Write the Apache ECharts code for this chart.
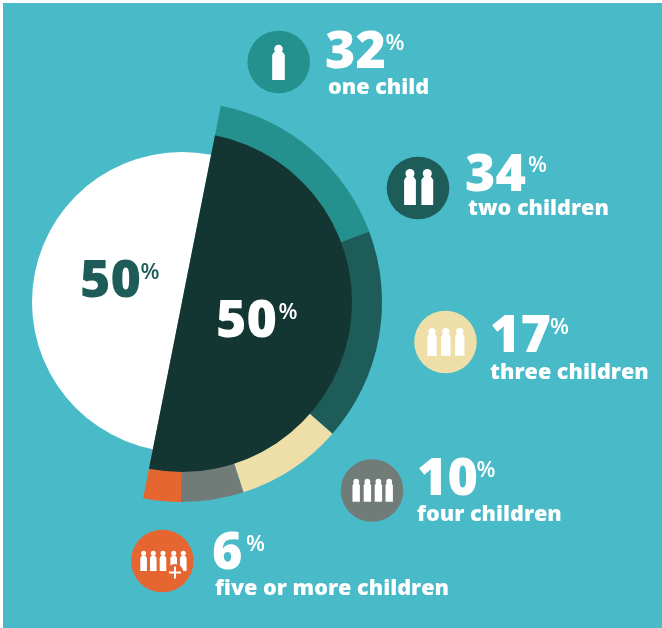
<!DOCTYPE html>
<html><head><meta charset="utf-8">
<style>html,body{margin:0;padding:0;background:#fff}#c{width:662px;height:628px}</style>
<script src="https://cdn.jsdelivr.net/npm/echarts@6/dist/echarts.min.js"></script>
</head><body><div id="c"></div>
<script>
var categories=['one child','two children','three children','four children','five or more children'];
var shares=[32,34,17,10,6];
var catColors=['#25918F','#1E5C5A','#EEDFA8','#717C79','#E66632'];
var splitLabels=['50','50'];
var splitValues=[50,50];
var FONT='"Open Sans"';
var chart=echarts.init(document.getElementById('c'),null,{renderer:'canvas'});
var center=[182,302];
var CLEAR='rgba(0,0,0,0)';
var sum=shares.reduce(function(a,b){return a+b},0);
function pie(radius,data,z){return {type:'pie',center:center,radius:radius,startAngle:78.8,clockwise:true,silent:true,z:z,
  label:{show:false},labelLine:{show:false},emphasis:{disabled:true},avoidLabelOverlap:false,minAngle:0,data:data};}
var outer=shares.map(function(v,i){return {name:categories[i],value:v,itemStyle:{color:catColors[i]}}});
outer.push({name:'rest',value:sum,itemStyle:{color:CLEAR}});
var icons=[
 {c:[278.7,62],xs:[278.5],w:12.6,top:53,bot:80,hy:49,hr:4.3},
 {c:[418,188],xs:[410,427.3],w:11.8,top:178,bot:205,hy:173.5,hr:4.5},
 {c:[445.5,342],xs:[432,445.8,459.8],w:9.4,top:335,bot:355.7,hy:331.5,hr:3.6},
 {c:[372,490.5],xs:[356.2,367.4,378.4,389.2],w:7.4,top:484,bot:501.7,hy:481.7,hr:2.9},
 {c:[162.3,561],xs:[143.6,153.3,163,173.7,183.3],w:6.6,top:556.7,bot:571,hy:553.3,hr:2.5}
];
var numPos=[[325,69.5,385.5],[465,191.7,528],[490,353,550],[417,496,476.5],[212,570,246]];
var labPos=[[328,95],[468,215.7],[490,380],[417,522],[215,595.7]];
var g=[];
g.push({type:'rect',shape:{x:3,y:3,width:659,height:625},style:{fill:'#48BAC8'},z:-10,silent:true});
function text(x,base,s,size,weight,fill,off){
  g.push({type:'text',x:x,y:base+off,z:50,silent:true,style:{x:0,y:0,text:s,fill:fill,
   font:weight+' '+size+'px '+FONT,textAlign:'left',textVerticalAlign:'bottom'}});
}
icons.forEach(function(ic,i){
  g.push({type:'circle',shape:{cx:ic.c[0],cy:ic.c[1],r:31.3},style:{fill:catColors[i]},z:20,silent:true});
  ic.xs.forEach(function(x){
    var h=ic.w/2,t=ic.top,b=ic.bot,s=ic.hr*0.5;
    g.push({type:'circle',shape:{cx:x,cy:ic.hy,r:ic.hr},style:{fill:'#fff'},z:21,silent:true});
    g.push({type:'polygon',shape:{points:[[x-h,b],[x-h,t+s],[x-h*0.8,t],[x-h*0.4,t-s],[x+h*0.4,t-s],[x+h*0.8,t],[x+h,t+s],[x+h,b]]},
      style:{fill:'#fff'},z:21,silent:true});
  });
  text(numPos[i][0],numPos[i][1],String(shares[i]),52,800,'#fff',10);
  text(numPos[i][2],numPos[i][1]-18.5,'%',22,600,'#fff',4);
  text(labPos[i][0],labPos[i][1],categories[i],21.6,800,'#fff',4);
});
g.push({type:'circle',shape:{cx:175,cy:572.5,r:8.5},style:{fill:catColors[4]},z:22,silent:true});
g.push({type:'rect',shape:{x:169,y:571.5,width:12,height:2},style:{fill:'#fff'},z:23,silent:true});
g.push({type:'rect',shape:{x:174,y:566.5,width:2,height:12},style:{fill:'#fff'},z:23,silent:true});
text(80,298,splitLabels[0],52,800,'#1E5C5A',10);
text(140.5,279.5,'%',22,600,'#1E5C5A',4);
text(216,338,splitLabels[1],52,800,'#fff',10);
text(278.5,319.5,'%',22,600,'#fff',4);
chart.setOption({animation:false,backgroundColor:'#fff',graphic:{elements:g},
 series:[
  pie([0,200],outer,1),
  pie([0,150],[{value:splitValues[0],itemStyle:{color:CLEAR}},{value:splitValues[1],itemStyle:{color:'#fff'}}],2),
  pie([0,170],[{value:splitValues[0],itemStyle:{color:'#143633'}},{value:splitValues[1],itemStyle:{color:CLEAR}}],3)
 ]});
</script></body></html>
